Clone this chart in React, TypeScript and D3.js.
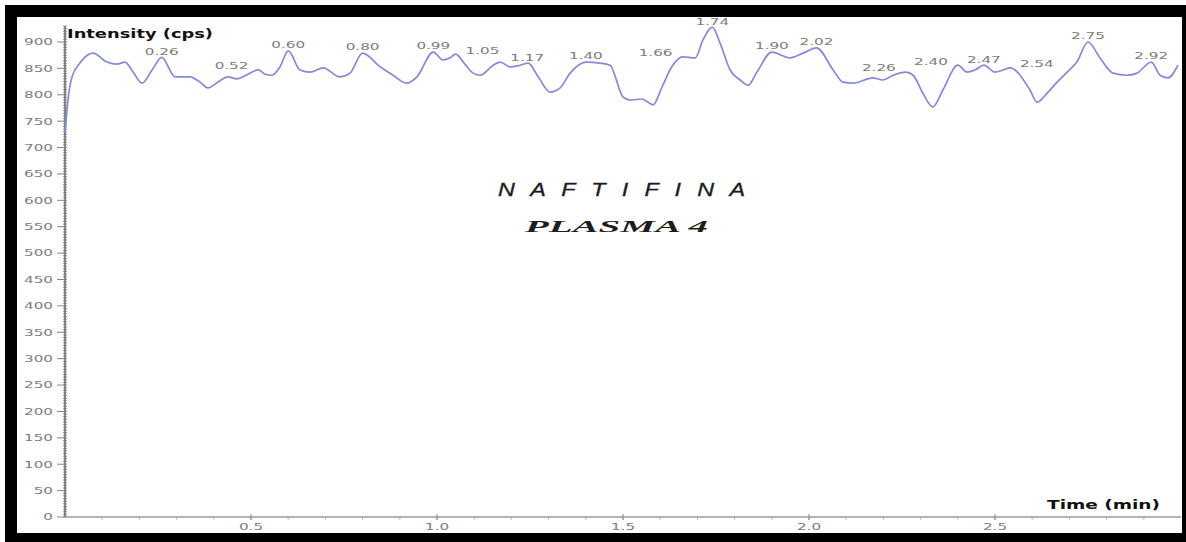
import React from "react";
import * as d3 from "d3";

// Chromatogram trace: retention time (min) and detector intensity (cps)
const traceTime = [
  0.0, 0.008, 0.019, 0.04, 0.075, 0.113, 0.14, 0.161, 0.183, 0.207, 0.234, 0.26,
  0.296, 0.336, 0.363, 0.384, 0.411, 0.438, 0.462, 0.484, 0.52, 0.538, 0.556, 0.578,
  0.6, 0.632, 0.659, 0.694, 0.739, 0.766, 0.8, 0.847, 0.882, 0.919, 0.946, 0.99,
  1.016, 1.035, 1.05, 1.075, 1.097, 1.116, 1.151, 1.17, 1.196, 1.223, 1.245, 1.272,
  1.304, 1.331, 1.358, 1.4, 1.438, 1.465, 1.5, 1.519, 1.551, 1.581, 1.605, 1.632,
  1.66, 1.694, 1.715, 1.74, 1.761, 1.788, 1.815, 1.836, 1.86, 1.9, 1.949, 1.984,
  2.02, 2.065, 2.091, 2.118, 2.172, 2.199, 2.226, 2.26, 2.28, 2.306, 2.333, 2.36,
  2.4, 2.425, 2.446, 2.47, 2.5, 2.522, 2.54, 2.594, 2.613, 2.64, 2.667, 2.694,
  2.72, 2.75, 2.782, 2.817, 2.855, 2.882, 2.92, 2.944, 2.965, 2.992,
];
const traceIntensity = [
  727, 790, 834, 860, 879, 862, 858, 862, 843, 822, 847, 871,
  834, 834, 824, 813, 824, 834, 830, 836, 847, 839, 837, 853,
  883, 847, 843, 851, 834, 841, 879, 853, 837, 822, 834, 881,
  866, 870, 877, 858, 841, 837, 856, 862, 853, 856, 860, 834,
  805, 813, 841, 862, 860, 856, 796, 790, 792, 781, 815, 854,
  872, 870, 904, 928, 898, 847, 828, 818, 843, 881, 870, 879,
  889, 847, 824, 822, 832, 828, 837, 843, 837, 803, 777, 809,
  856, 843, 847, 856, 843, 847, 851, 809, 786, 803, 824, 843,
  862, 900, 870, 841, 837, 841, 862, 837, 832, 856,
];

// Labelled peak apexes (retention times, min)
const peakTimes = [
  0.26, 0.52, 0.6, 0.8, 0.99, 1.05, 1.17, 1.4, 1.66, 1.74, 1.9, 2.02, 2.26, 2.4,
  2.47, 2.54, 2.75, 2.92,
];

const yTicks = d3.range(0, 901, 50);
const xTicks = [0.5, 1.0, 1.5, 2.0, 2.5];

const W = 1186;
const H = 542;

export default function App() {
  const x = d3.scaleLinear().domain([0, 3]).range([65, 1181]);
  const y = d3.scaleLinear().domain([0, 900]).range([517, 42]);

  const points: [number, number][] = traceTime.map((t, i) => [t, traceIntensity[i]]);
  const line = d3
    .line<[number, number]>()
    .x((d) => x(d[0]))
    .y((d) => y(d[1]))
    .curve(d3.curveMonotoneX);

  const intensityAt = (t: number) => {
    const i = traceTime.findIndex((v) => Math.abs(v - t) < 1e-6);
    return traceIntensity[i];
  };

  // placement of each peak label relative to its apex
  const peakAlign: ("middle" | "start" | "end")[] = [
    "middle", "end", "middle", "middle", "middle", "start", "start", "middle", "end",
    "middle", "middle", "middle", "end", "end", "middle", "start", "middle", "middle",
  ];

  const labelColor = "#7c7c7c";
  const stretch = 1.6;
  const minorY = d3.range(0, 931, 5);
  const minorX = d3.range(0.1, 3.0, 0.1);

  return (
    <div style={{ position: "absolute", left: 0, top: 0 }}>
      <svg width={W} height={H} style={{ display: "block", background: "#fff" }}>
        <rect x={5} y={5} width={W - 5} height={H - 5} fill="#000" />
        <rect x={17} y={17} width={1165} height={516} fill="#fff" />

        {/* y axis */}
        <line x1={65} x2={65} y1={y(930)} y2={517} stroke="#555" strokeWidth={1.4} />
        {minorY.map((v) => (
          <line key={"my" + v} x1={63} x2={67} y1={y(v)} y2={y(v)} stroke="#777" strokeWidth={0.8} />
        ))}
        {yTicks.map((v) => (
          <g key={"yt" + v}>
            <line x1={57} x2={65} y1={y(v)} y2={y(v)} stroke="#888" strokeWidth={1} />
            <text
              transform={`translate(53,${y(v)}) scale(${stretch},1)`}
              textAnchor="end"
              dominantBaseline="central"
              fontFamily="DejaVu Sans, sans-serif"
              fontSize={9.5}
              fill={labelColor}
            >
              {v}
            </text>
          </g>
        ))}

        {/* x axis */}
        <line x1={65} x2={1181} y1={517} y2={517} stroke="#9a9a9a" strokeWidth={1.3} />
        {minorX.map((t) => (
          <line key={"mx" + t.toFixed(1)} x1={x(t)} x2={x(t)} y1={517} y2={520} stroke="#aaa" strokeWidth={0.8} />
        ))}
        {xTicks.map((t) => (
          <g key={"xt" + t}>
            <line x1={x(t)} x2={x(t)} y1={514} y2={520} stroke="#888" strokeWidth={1} />
            <text
              transform={`translate(${x(t)},527) scale(${stretch},1)`}
              textAnchor="middle"
              dominantBaseline="central"
              fontFamily="DejaVu Sans, sans-serif"
              fontSize={9.5}
              fill={labelColor}
            >
              {t.toFixed(1)}
            </text>
          </g>
        ))}

        {/* axis titles */}
        <text
          x={67}
          y={38}
          textLength={146}
          lengthAdjust="spacingAndGlyphs"
          fontFamily="DejaVu Sans, sans-serif"
          fontWeight="bold"
          fontSize={12}
          fill="#111"
        >
          Intensity (cps)
        </text>
        <text
          x={1047}
          y={509}
          textLength={113}
          lengthAdjust="spacingAndGlyphs"
          fontFamily="DejaVu Sans, sans-serif"
          fontWeight="bold"
          fontSize={12}
          fill="#111"
        >
          Time (min)
        </text>

        {/* sample annotation */}
        <text
          transform="translate(498,196) scale(1.3,1)"
          textLength={247 / 1.3}
          lengthAdjust="spacing"
          fontFamily="Liberation Sans, Arial, sans-serif"
          fontStyle="italic"
          fontSize={18}
          fill="#1c1c1c"
          stroke="#1c1c1c"
          strokeWidth={0.3}
        >
          N A F T I F I N A
        </text>
        <text
          x={525}
          y={232}
          textLength={183}
          lengthAdjust="spacingAndGlyphs"
          fontFamily="Liberation Serif, Times New Roman, serif"
          fontStyle="italic"
          fontWeight="bold"
          fontSize={16}
          fill="#1c1c1c"
        >
          PLASMA  4
        </text>

        {/* trace */}
        <path d={line(points) ?? ""} fill="none" stroke="#858ad2" strokeWidth={1.7} strokeLinejoin="round" />

        {/* peak labels */}
        {peakTimes.map((t, i) => {
          const align = peakAlign[i];
          const px = x(t) + (align === "end" ? -10 : align === "start" ? 10 : 0);
          const py = y(intensityAt(t)) - (align === "middle" ? 6 : 4);
          return (
            <text
              key={"pk" + t}
              transform={`translate(${px},${py}) scale(${stretch},1)`}
              textAnchor={align}
              dominantBaseline="central"
              fontFamily="DejaVu Sans, sans-serif"
              fontSize={9.5}
              fill={labelColor}
            >
              {t.toFixed(2)}
            </text>
          );
        })}
      </svg>
    </div>
  );
}
